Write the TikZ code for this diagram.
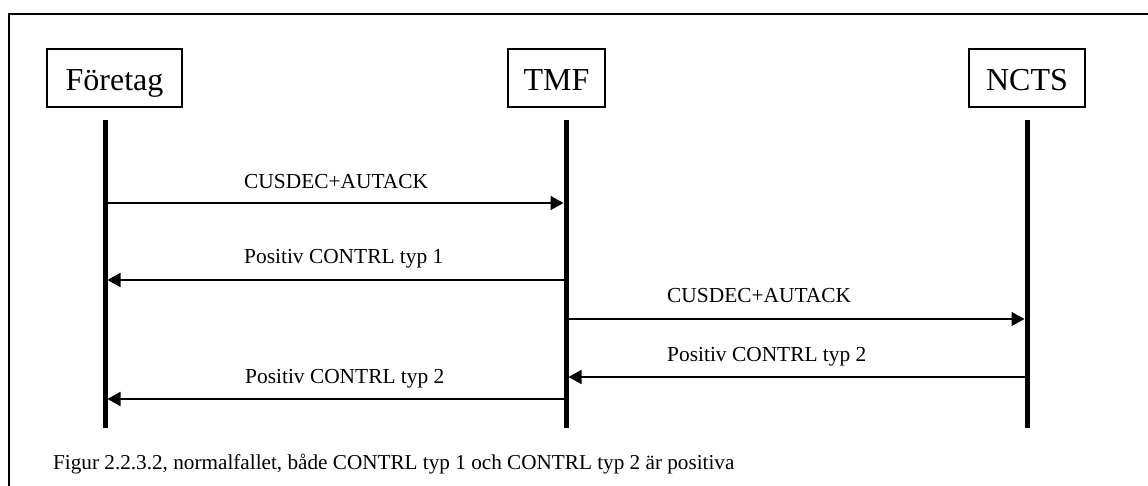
\documentclass[tikz,border=0pt]{standalone}
\usepackage{fontspec}
\setmainfont{Liberation Serif}
\usetikzlibrary{arrows.meta}
\begin{document}
\begin{tikzpicture}[x=1pt, y=-1pt,
  actor/.style={draw, line width=1.6pt, minimum height=58pt, inner sep=0pt,
    text height=25pt, text depth=0pt, font=\fontsize{32}{36}\selectfont},
  lifeline/.style={line width=5pt},
  msg/.style={line width=1.6pt, -{Triangle[length=13pt, width=14pt]}, shorten >=2.5pt},
  msglabel/.style={anchor=base west, inner sep=0pt, font=\fontsize{21.4}{24}\selectfont},
  frame/.style={line width=1.8pt}]
  \useasboundingbox (0,0) rectangle (1148,486);

  % open frame (left and top edges)
  \coordinate (fbl) at (9.3,486);
  \coordinate (ftl) at (9.3,14.3);
  \coordinate (ftr) at (1148,14.3);
  \draw[frame] (fbl) -- (ftl) -- (ftr);

  % actors
  \node[actor, minimum width=135pt] (foretag) at (114.5,78) {Företag};
  \node[actor, minimum width=97pt]  (tmf)     at (556.5,78) {TMF};
  \node[actor, minimum width=116pt] (ncts)    at (1027,78)  {NCTS};

  % lifelines
  \coordinate (fTop) at (105,120);   \coordinate (fBot) at (105,428);
  \coordinate (tTop) at (566,120);   \coordinate (tBot) at (566,428);
  \coordinate (nTop) at (1027,120);  \coordinate (nBot) at (1027,428);
  \draw[lifeline] (fTop) -- (fBot);
  \draw[lifeline] (tTop) -- (tBot);
  \draw[lifeline] (nTop) -- (nBot);

  % message end points
  \coordinate (f1) at (105,203);  \coordinate (t1) at (566,203);
  \coordinate (f2) at (105,280);  \coordinate (t2) at (566,280);
  \coordinate (t3) at (566,319);  \coordinate (n3) at (1027,319);
  \coordinate (t4) at (566,377);  \coordinate (n4) at (1027,377);
  \coordinate (f5) at (105,399);  \coordinate (t5) at (566,399);

  % messages
  \draw[msg] (f1) -- (t1);
  \draw[msg] (t2) -- (f2);
  \draw[msg] (t3) -- (n3);
  \draw[msg] (n4) -- (t4);
  \draw[msg] (t5) -- (f5);

  \node[msglabel] (l1) at (244,188.5) {CUSDEC+AUTACK};
  \node[msglabel] (l2) at (244,264) {Positiv CONTRL typ 1};
  \node[msglabel] (l3) at (667,302) {CUSDEC+AUTACK};
  \node[msglabel] (l4) at (667,361) {Positiv CONTRL typ 2};
  \node[msglabel] (l5) at (245,383) {Positiv CONTRL typ 2};

  % caption
  \node[msglabel, font=\fontsize{21.2}{24}\selectfont] (cap) at (53,469)
    {Figur 2.2.3.2, normalfallet, både CONTRL typ 1 och CONTRL typ 2 är positiva};
\end{tikzpicture}
\end{document}
